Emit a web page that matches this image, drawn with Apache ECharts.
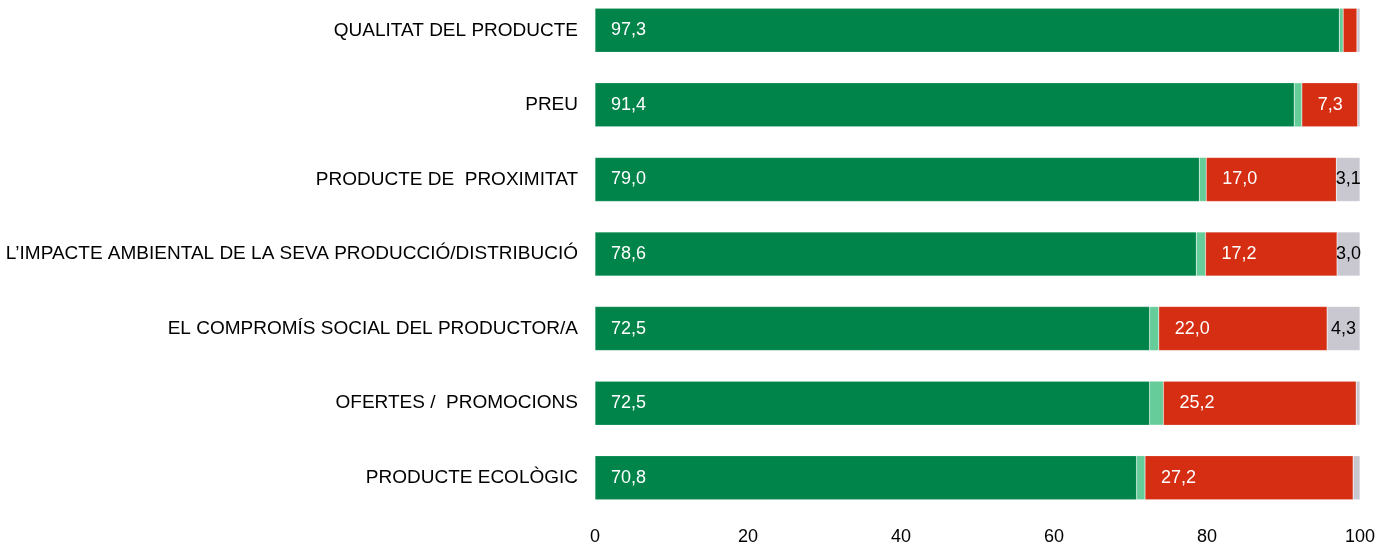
<!DOCTYPE html>
<html>
<head>
<meta charset="utf-8">
<script src="https://cdn.jsdelivr.net/npm/echarts@6/dist/echarts.min.js"></script>
<style>
  html, body { margin: 0; padding: 0; background: #fff; overflow: hidden; }
  #chart { width: 1379px; height: 553px; margin-top: -7px; }
</style>
</head>
<body>
<div id="chart"></div>
<script>
const categories = [
  'QUALITAT DEL PRODUCTE',
  'PREU',
  'PRODUCTE DE  PROXIMITAT',
  'L\u2019IMPACTE AMBIENTAL DE LA SEVA PRODUCCIÓ/DISTRIBUCIÓ',
  'EL COMPROMÍS SOCIAL DEL PRODUCTOR/A',
  'OFERTES /  PROMOCIONS',
  'PRODUCTE ECOLÒGIC'
]
const darkGreen = [97.3, 91.4, 79.0, 78.6, 72.5, 72.5, 70.8]
const lightGreen = [0.5, 1.0, 0.9, 1.2, 1.2, 1.8, 1.1]
const red = [1.8, 7.3, 17.0, 17.2, 22.0, 25.2, 27.2]
const grey = [0.4, 0.3, 3.1, 3.0, 4.3, 0.5, 0.9]
const xTicks = [0, 20, 40, 60, 80, 100]

const font = 'Liberation Sans, Arial, sans-serif'
const fmt = v => v.toFixed(1).replace('.', ',')

function makeSeries (name, data, color, labelMin, labelColor, pos) {
  return {
    name,
    type: 'bar',
    stack: 'total',
    barWidth: 44,
    itemStyle: { color, borderColor: 'rgba(255,255,255,0.35)', borderWidth: 0.5 },
    label: {
      show: true,
      position: pos,
      distance: 16,
      color: labelColor,
      fontSize: 18,
      fontFamily: font,
      formatter: p => (p.value >= labelMin ? fmt(p.value) : '')
    },
    data
  }
}

const chart = echarts.init(document.getElementById('chart'), null, { renderer: 'canvas' })
chart.setOption({
  animation: false,
  grid: { left: 595, right: 19, top: 0, bottom: 29, containLabel: false },
  xAxis: {
    type: 'value',
    min: 0,
    max: 100,
    interval: 20,
    splitLine: { show: false },
    axisLine: { show: false },
    axisTick: { show: false },
    axisLabel: {
      margin: 13,
      fontSize: 18,
      color: '#000',
      fontFamily: font,
      formatter: v => (xTicks.includes(v) ? String(v) : '')
    }
  },
  yAxis: {
    type: 'category',
    inverse: true,
    data: categories,
    axisLine: { show: false },
    axisTick: { show: false },
    axisLabel: {
      margin: 17,
      fontSize: 19,
      color: '#000',
      fontFamily: font
    }
  },
  series: [
    makeSeries('Verd', darkGreen, '#00844a', 0, '#fff', 'insideLeft'),
    makeSeries('Verd clar', lightGreen, '#66cc99', 99, '#fff', 'inside'),
    makeSeries('Vermell', red, '#d52e13', 5, '#fff', 'insideLeft'),
    makeSeries('Gris', grey, '#c9c7d0', 3, '#000', 'inside')
  ]
})
</script>
</body>
</html>
